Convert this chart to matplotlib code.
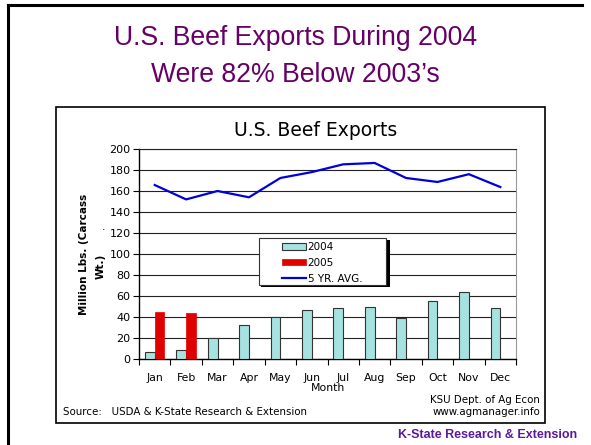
import matplotlib.pyplot as plt
import numpy as np

months = ['Jan', 'Feb', 'Mar', 'Apr', 'May', 'Jun', 'Jul', 'Aug', 'Sep', 'Oct', 'Nov', 'Dec']
exp_2004 = [6.4, 8.2, 20, 32.7, 40.3, 46.3, 48.3, 49.2, 39.4, 55, 64.1, 48.3]
exp_2005 = [44.5, 43.8]
avg_5yr = [165.7, 152, 160, 154, 172.4, 178, 185.4, 186.7, 172.4, 168.6, 176, 163.8]
yticks = np.arange(0, 201, 20)

W, H = 591, 445
plt.rcParams['font.family'] = 'DejaVu Sans'
fig = plt.figure(figsize=(W / 100, H / 100), dpi=100)


def fx(px):
    return px / W


def fy(py):
    return 1 - py / H


# cornice della slide (solo lato alto e sinistro)
fig.add_artist(plt.Line2D([fx(8), fx(582)], [fy(5), fy(5)], color='black', lw=2.2))
fig.add_artist(plt.Line2D([fx(8), fx(8)], [fy(5), 0], color='black', lw=2.2))

# titolo della slide
fig.text(0.5, fy(38), 'U.S. Beef Exports During 2004', ha='center', va='center', fontsize=19.2,
         family='Liberation Sans', color='#660066')
fig.text(0.5, fy(75), "Were 82% Below 2003\u2019s", ha='center', va='center', fontsize=19.2,
         family='Liberation Sans', color='#660066')

# riquadro del grafico
fig.add_artist(plt.Rectangle((fx(56), fy(423)), fx(545) - fx(56), fy(107) - fy(423),
                             fill=False, edgecolor='black', lw=1.2))

ax = fig.add_axes([fx(139), fy(359), fx(516) - fx(139), fy(149) - fy(359)])
x = np.arange(len(months))
w = 0.31
b1 = ax.bar(x - w / 2, exp_2004, w, color='#a6e2e0', edgecolor='#333333', lw=0.8, label='2004', zorder=3)
b2 = ax.bar(x[:len(exp_2005)] + w / 2, exp_2005, w, color='#e00000', edgecolor='#e00000', lw=0.5,
            label='2005', zorder=3)
l1, = ax.plot(x, avg_5yr, color='#0000dd', lw=1.6, label='5 YR. AVG.', zorder=4)

ax.set_xlim(-0.5, len(months) - 0.5)
ax.set_ylim(0, 200)
ax.set_yticks(yticks)
ax.set_xticks(x)
ax.set_xticklabels(months)
ax.set_xticks(np.arange(-0.5, len(months)), minor=True)
ax.tick_params(axis='x', which='major', length=0, pad=10, labelsize=7.8)
ax.tick_params(axis='x', which='minor', length=4, direction='out', width=0.8)
ax.tick_params(axis='y', length=4, direction='out', width=0.8, labelsize=8, pad=2)
ax.yaxis.grid(True, color='#222222', lw=0.8, zorder=0)
ax.spines['top'].set_color('#222222')
ax.spines['right'].set_color('#999999')
ax.spines['left'].set_linewidth(1.0)
ax.spines['bottom'].set_linewidth(1.0)

fig.text(fx(316), fy(130), 'U.S. Beef Exports', fontsize=13.5, ha='center', va='center')
fig.text(fx(328), fy(388), 'Month', fontsize=7.8, ha='center', va='center')
ax.set_ylabel('Million Lbs. (Carcass', fontsize=7.5, fontweight='bold', labelpad=15)
fig.text(fx(101), fy(266), 'Wt.)', fontsize=7.5, fontweight='bold', rotation=90,
         ha='center', va='center')
fig.text(fx(104), fy(227), '.', fontsize=7.5, ha='center', va='center')

# cornice della legenda con ombra nera
fig.add_artist(plt.Rectangle((fx(261), fy(287)), fx(388) - fx(259), fy(238) - fy(285),
                             facecolor='black', edgecolor='none', zorder=5))
fig.add_artist(plt.Rectangle((fx(259), fy(285)), fx(386) - fx(259), fy(238) - fy(285),
                             facecolor='white', edgecolor='#333333', lw=0.8, zorder=6))
leg = fig.legend([b1, b2, l1], ['2004', '2005', '5 YR. AVG.'], loc='upper left',
                 bbox_to_anchor=(fx(280), fy(240)), fontsize=7.5, frameon=False,
                 borderpad=0.2, handlelength=2.3, handleheight=0.6, handletextpad=0.15,
                 labelspacing=0.55, borderaxespad=0)
leg.set_zorder(7)

fig.text(fx(63), fy(412), 'Source:   USDA & K-State Research & Extension', fontsize=7.4,
         ha='left', va='center')
fig.text(fx(540), fy(400), 'KSU Dept. of Ag Econ', fontsize=7.4, ha='right', va='center')
fig.text(fx(540), fy(412), 'www.agmanager.info', fontsize=7.4, ha='right', va='center')

fig.text(fx(577), fy(435), 'K-State Research & Extension', fontsize=9, fontweight='bold',
         family='Liberation Sans', color='#5a1a9a', ha='right', va='center')

fig.savefig('out.png', dpi=100)
